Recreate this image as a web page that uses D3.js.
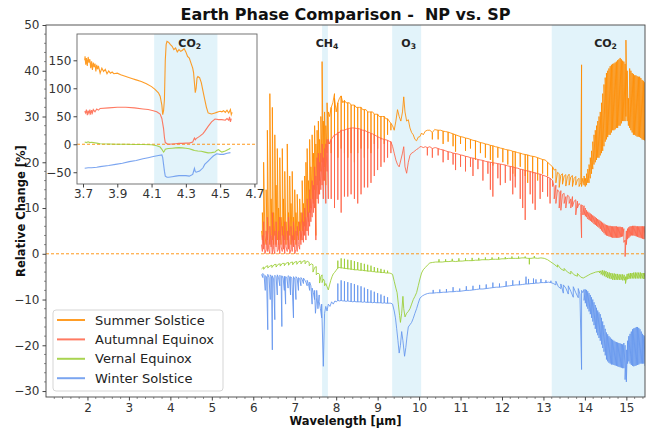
<!DOCTYPE html>
<html><head><meta charset="utf-8">
<script src="https://cdn.jsdelivr.net/npm/d3@7/dist/d3.min.js"></script>
<style>body{margin:0;background:#fff;}svg{display:block;font-family:"DejaVu Sans",sans-serif;}</style>
</head><body><svg id="c" width="646" height="430"></svg>
<script>
// ---------- DATA (each entry: [wavelength, value(s) visited in order]) ----------
const seriesNames = ["Summer Solstice", "Autumnal Equinox", "Vernal Equinox", "Winter Solstice"];
const seriesColors = ["#ff8c00", "#ff6347", "#9acd32", "#6495ed"];
const xTicks = [2,3,4,5,6,7,8,9,10,11,12,13,14,15];
const yTicks = [-30,-20,-10,0,10,20,30,40,50];
const insetXTicks = [3.7,3.9,4.1,4.3,4.5,4.7];
const insetYTicks = [-50,0,50,100,150];
const gasBands = [[7.66,7.80],[9.35,10.05],[13.2,15.7]];
const gasNames = [["CH","4"],["O","3"],["CO","2"]];
const insetBand = [4.115,4.484];

const summer = [[6.20,5],[6.22,3,9],[6.25,2,20],[6.28,4],[6.31,2,14],[6.34,3,27],[6.37,5],[6.40,2,35],[6.43,4,12],[6.46,3,32],[6.49,2,9],[6.52,4,26],[6.55,2,15],[6.58,3,23],[6.61,2,10],[6.64,3,21],[6.67,2,8],[6.70,4,23],[6.73,2,12],[6.76,3,18],[6.79,2,7],[6.82,3,24],[6.85,2,9],[6.88,4,17],[6.91,2,11],[6.94,3,18],[6.97,2,8],[7.00,3,14],[7.03,2,9],[7.06,4,13],[7.09,3,7],[7.12,5,12],[7.15,3,9],[7.18,5,16],[7.21,4,11],[7.24,6,17],[7.27,5,20],[7.30,8,23],[7.33,7,16],[7.36,9,25],[7.39,10,19],[7.42,12,26],[7.45,11,22],[7.48,14,28],[7.51,4,24],[7.54,15,27],[7.57,13,29],[7.60,16,25],[7.63,18,30],[7.66,20,42],[7.69,16,29],[7.72,19,31],[7.75,15,28],[7.78,22,33],[7.81,24,31],
[7.84,30],[7.88,32,22,32],[7.92,33],[7.96,35,24,34],[8.00,31],[8.04,33,21,33],[8.08,34],[8.12,34.5,23,34.5],[8.16,33],[8.20,33.5,22,33.5],[8.24,33],[8.28,33,21,33],[8.32,33],[8.36,32.5,22,32.5],[8.40,32.5],[8.44,32.5,20,32.5],[8.48,32],[8.52,32,22,32],[8.56,32],[8.60,32,23,32],[8.64,31.5],[8.68,31.5,21,31.5],[8.72,31.5],[8.76,31,23,31],[8.80,31],[8.84,31,22,31],[8.88,31],[8.92,30.5,24,30.5],[8.96,30.5],[9.00,30.5,23,30.5],[9.04,30],[9.08,30,25,30],[9.12,30],[9.16,30,24,30],[9.20,29.5],[9.24,29.5,26,29.5],[9.28,29],[9.32,28.5,27,28.5],
[9.36,28],[9.40,27],[9.44,29],[9.48,31.5],[9.52,30],[9.56,29],[9.60,31],[9.63,34.3],[9.66,31],[9.70,29],[9.74,29.3],[9.78,27.5],[9.82,26.5],[9.86,26],[9.90,25],[9.94,24.7],[9.98,25.5],[10.02,25.6],[10.06,26.4],[10.10,26],[10.15,26.8],[10.20,27],[10.26,27],[10.32,26.5,25,26.5],[10.38,27.2],
[10.40,27.1],[10.46,27,25,27],[10.52,27],[10.58,26.8,24,26.8],[10.64,26.7],[10.70,26.6,24.5,26.6],[10.76,26.4],[10.82,26.2,23.5,26.2],[10.88,26,22.3,26],[10.94,25.8],[11.00,25.6,24,25.6],[11.06,25.5],[11.12,25.3,22.5,25.3],[11.18,25.2],[11.24,25,23,25],[11.30,24.8],[11.36,24.7,20.5,24.7],[11.42,24.5],[11.48,24.3,22,24.3],[11.54,24.2],[11.60,24,21,24],[11.66,23.9],[11.72,23.7,20.5,23.7],[11.78,23.6,19.3,23.6],[11.84,23.4],[11.90,23.3,21,23.3],[11.96,23.1],[12.02,23,20,23],[12.08,22.8],[12.14,22.7,19.5,22.7],[12.20,22.6],[12.26,22.4,17.5,22.4],[12.32,22.3,16.9,22.3],[12.38,22.1],[12.44,22,19,22],[12.50,21.8],[12.56,21.7,17,21.7],[12.62,21.6,15.5,21.6],[12.68,21.4],[12.74,21.3,17.5,21.3],[12.80,21.2],[12.86,21,16,21],[12.92,20.8],[12.98,20.6,17.5,20.6],[13.04,20.5],[13.10,20,17,20],[13.16,19.5],[13.22,19,16.5,19],
[13.26,18.3],[13.30,18.5,15.5],[13.34,17.8],[13.38,17.5,14.5],[13.42,17.2],[13.46,17.5,15.2],[13.50,17],[13.54,17.3,14.8],[13.58,16.9],[13.62,17.4,15],[13.66,16.8],[13.70,17.1,14.7],[13.74,16.5],[13.78,16.9,15],[13.82,16.2],[13.86,16.5,14.7],[13.90,15.5],[13.92,41.3,14.7],[13.95,16.5],[13.98,15,17],[14.01,14.7,16.5],[14.04,15,17.5],[14.07,15.5,18.5],
[14.10,15.5,19.5],[14.13,16.5,21],[14.16,17.5,22.5],[14.19,18.5,24.5],[14.22,19.5,26],[14.25,20,27],[14.28,20.5,28],[14.31,21,29],[14.34,21,30],[14.37,21.5,31],[14.40,22,33],[14.43,22.5,35],[14.46,23.5,37],[14.49,24.5,38.5],[14.52,25,39.5],[14.55,25.5,40],[14.58,26,40.5],[14.61,26,41],[14.64,26.5,41.3],[14.67,27,41.5],[14.70,27,41.6],[14.73,27.2,41.8],[14.76,27.5,42],[14.79,27.5,42.3],[14.82,28,42.5],[14.85,28,42.8],[14.88,28.5,42.5],[14.91,29,42.2],[14.94,29,42],[14.97,29,41.5],[14.99,30,46.7],[15.02,29,40],[15.05,28,34],[15.08,27.5,40.5],[15.11,27,40],[15.14,26.5,39.5],[15.17,26,39.3],[15.20,26,39],[15.23,25.8,39],[15.26,25.6,38.8],[15.29,25.6,38.7],[15.32,25.5,38.7],[15.35,25.3,38.4],[15.38,25,38],[15.41,24.9,37.8],[15.44,24.8,37.5]];

const autumn = [[6.20,2],[6.22,0.5,4],[6.25,1,7],[6.28,0],[6.31,1,5],[6.34,0.5,8],[6.37,1],[6.40,0,6],[6.43,1.5,4],[6.46,0,9],[6.49,1],[6.52,0,5],[6.55,1.5,7],[6.58,0.5],[6.61,1,5],[6.64,0,8],[6.67,1.5],[6.70,0.5,6],[6.73,1,4],[6.76,0,7],[6.79,1.5],[6.82,0.5,5],[6.85,1,8],[6.88,0],[6.91,1,6],[6.94,0.5,4],[6.97,1.5,7],[7.00,0],[7.03,1,5],[7.06,0.5,6],[7.09,2],[7.12,1,7],[7.15,2,5],[7.18,3,9],[7.21,2.5,7],[7.24,4,10],[7.27,3,8],[7.30,5,12],[7.33,4,9],[7.36,6,14],[7.39,7,12],[7.42,8,16],[7.45,9,15],[7.48,10,19],[7.51,3,17],[7.54,12,21],[7.57,11,22],[7.60,13,20],[7.63,14,22],[7.66,15,24],[7.69,12,21],[7.72,16,23],[7.75,11,24],[7.78,18,25],[7.81,12,25],
[7.84,24],[7.88,25,12,25],[7.92,25.5],[7.96,26,10,26],[8.00,26],[8.04,26.5,11.8,26.5],[8.08,26.5],[8.12,27,9,27],[8.16,27],[8.20,27,12.5,27],[8.24,27.2],[8.28,27.3,12.5,27.3],[8.32,27.4],[8.36,27.5,13,27.5],[8.40,27.5],[8.44,27.5,12,27.5],[8.48,27.4],[8.52,27.4,11,27.4],[8.56,27.3],[8.60,27.2,13,27.2],[8.64,27],[8.68,27,14.5,27],[8.72,26.8],[8.76,26.6,14.5,26.6],[8.80,26.5],[8.84,26.3,15.5,26.3],[8.88,26.2],[8.92,26,17,26],[8.96,25.8],[9.00,25.6,18.3,25.6],[9.04,25.4],[9.08,25.3,19,25.3],[9.12,25.1],[9.16,25,20,25],[9.20,24.9],[9.24,24.8,21,24.8],[9.28,24.6],[9.32,24.5,22,24.5],
[9.36,23.5],[9.40,22],[9.44,20.5],[9.48,19.5],[9.52,19],[9.56,20.5],[9.60,22],[9.63,23.4],[9.66,19],[9.70,17.6],[9.74,20],[9.78,21.5],[9.82,22],[9.86,22.2],[9.90,22.5],[9.94,22.8],[9.98,23],[10.02,23.4],[10.06,23.4],[10.10,23.2],[10.15,23.4],[10.20,23.2,21.5,23.2],[10.26,23.4],[10.32,23,21,23],[10.38,23.2],
[10.40,23.2],[10.46,23,21.5,23],[10.52,22.8],[10.58,22.7,20,22.7],[10.64,22.5],[10.70,22.3,20.5,22.3],[10.76,22.2],[10.82,22,19.5,22],[10.88,21.9,18.3,21.9],[10.94,21.8],[11.00,21.6,19,21.6],[11.06,21.5],[11.12,21.3,18,21.3],[11.18,21.2],[11.24,21,19,21],[11.30,20.9,17,20.9],[11.36,20.8],[11.42,20.6,18.5,20.6],[11.48,20.5],[11.54,20.4,16,20.4],[11.60,20.2],[11.66,20.1,17.5,20.1],[11.72,20,14,20],[11.78,19.9,12.5,19.9],[11.84,19.8],[11.90,19.7,16.5,19.7],[11.96,19.6,15,19.6],[12.02,19.5],[12.08,19.4,15.5,19.4],[12.14,19.2],[12.20,19.1,16,19.1],[12.26,19,13,19],[12.32,18.8,14.5,18.8],[12.38,18.7],[12.44,18.5,12,18.5],[12.50,18.4,10,18.4],[12.56,18.2,7.4,18.2],[12.62,18.1],[12.68,18,13,18],[12.74,17.8,11,17.8],[12.80,17.7,9.6,17.7],[12.86,17.5],[12.92,17.4,12,17.4],[12.98,17.2,13.5,17.2],[13.04,17],[13.10,16.8,12.5,16.8],[13.16,16.5,11,16.5],[13.22,16,14.7,16],
[13.26,14.5,12],[13.30,15,11],[13.34,14],[13.38,13.5,10],[13.42,13.8,9.5],[13.46,13],[13.50,13.2,11],[13.54,12.5,10],[13.58,12.8],[13.62,12.5,11],[13.66,12,10],[13.70,12.5,10.3],[13.74,11.5],[13.78,11.8,8.5],[13.82,11.5,10],[13.86,11],[13.90,10.5,9],[13.92,3.5,10.7],[13.95,10.5,8.5],
[13.98,10.5,8.5],[14.01,10,8.2],[14.04,9.5,8],[14.07,9.2,7.6],[14.10,9,7.4],[14.13,8.8,7.2],[14.16,8.6,7],[14.19,8.4,6.8],[14.22,8.2,6.5],[14.25,8,6.3],[14.28,7.8,6.1],[14.31,7.6,5.9],[14.34,7.4,5.7],[14.37,7.2,5.4],[14.40,7,5.1],[14.43,6.8,4.8],[14.46,6.6,4.5],[14.49,6.4,4.2],[14.52,6.3,4],[14.55,6.2,3.9],[14.58,6.1,3.8],[14.61,6.1,3.7],[14.64,6,3.6],[14.67,6,3.5],[14.70,6,3.5],[14.73,6,3.5],[14.76,6,3.5],[14.79,5.9,3.5],[14.82,5.9,3.5],[14.85,5.9,3.6],[14.88,5.8,3.7],[14.91,5.8,3.8],[14.94,5.5,2.5],[14.97,3,-0.6],[15.00,5,2],[15.03,5.5,3.2],[15.06,5.8,3.5],[15.09,6,3.8],[15.12,6,4],[15.15,6.1,4],[15.18,6.1,4],[15.21,6.1,3.9],[15.24,6,3.8],[15.27,6,3.7],[15.30,6,3.6],[15.33,6,3.5],[15.36,6,3.4],[15.39,6,3.3],[15.42,6,3.2],[15.45,6,3.2]];

const vernal = [[6.20,-3.3],[6.25,-2.9,-3.4],[6.30,-2.8],[6.35,-2.6,-3.1],[6.40,-2.7],[6.45,-2.5,-3.0],[6.50,-2.4],[6.55,-2.3,-2.9],[6.60,-2.3],[6.65,-2.2,-2.7],[6.70,-2.1],[6.75,-2.1,-2.6],[6.80,-2.0],[6.85,-1.9,-2.5],[6.90,-1.9],[6.95,-1.8,-2.4],[7.00,-1.8],[7.05,-1.7,-2.3],[7.10,-1.7],[7.15,-1.6,-2.2],[7.20,-1.6],[7.25,-1.5,-2.2],[7.30,-1.6],[7.35,-1.9,-2.6],[7.40,-2.2],[7.44,-2.4,-4.0],[7.48,-3.0],[7.52,-2.8,-4.6],[7.56,-4.2],[7.60,-4.5,-6.4],[7.63,-5.0],[7.66,-4.6,-6.3],[7.69,-5.5],[7.72,-6.0,-7.0],[7.75,-6.5],[7.78,-7.2],[7.81,-7.9],[7.84,-6.8],[7.87,-5.8],[7.90,-5.0],[7.93,-4.4],[7.96,-4.1],[8.00,-3.6],
[8.04,-3.1,-1.5,-3.1],[8.08,-3.0],[8.12,-3.1,-1.0,-3.1],[8.16,-3.1],[8.20,-3.2,-1.1,-3.2],[8.24,-3.2],[8.28,-3.3,-1.3,-3.3],[8.32,-3.3],[8.36,-3.4,-1.4,-3.4],[8.40,-3.4],[8.44,-3.5,-1.6,-3.5],[8.48,-3.5],[8.52,-3.5,-1.8,-3.5],[8.56,-3.6],[8.60,-3.6,-2.0,-3.6],[8.64,-3.6],[8.68,-3.7,-2.2,-3.7],[8.72,-3.7],[8.76,-3.8,-2.4,-3.8],[8.80,-3.8],[8.84,-3.8,-2.6,-3.8],[8.88,-3.9],[8.92,-3.9,-2.9,-3.9],[8.96,-4.0],[9.00,-4.0,-3.1,-4.0],[9.04,-4.0],[9.08,-4.1,-3.3,-4.1],[9.12,-4.1],[9.16,-4.1,-3.5,-4.1],[9.20,-4.2],[9.24,-4.2,-3.7,-4.2],[9.28,-4.2],[9.32,-4.3],
[9.36,-4.5],[9.40,-6.0],[9.44,-7.5],[9.47,-8.5],[9.50,-11],[9.53,-13.5],[9.55,-15],[9.58,-13],[9.61,-9.3],[9.63,-12],[9.66,-13.8],[9.70,-13],[9.74,-12.6],[9.78,-12],[9.82,-11],[9.86,-10],[9.90,-9.3],[9.94,-8.5],[9.98,-7],[10.02,-5.5],[10.06,-4.2],[10.10,-3.5],[10.15,-3.0],[10.20,-2.5],[10.26,-2.0],[10.32,-1.9],[10.40,-1.8],[10.48,-1.8,-1.2,-1.8],[10.56,-1.8],[10.64,-1.7,-1.2,-1.7],[10.72,-1.7],[10.80,-1.6,-1.1,-1.6],[10.88,-1.7],[10.96,-1.6,-1.0,-1.6],[11.04,-1.6],[11.12,-1.5,-1.0,-1.5],[11.20,-1.5],[11.28,-1.5,-0.9,-1.5],[11.36,-1.4],[11.44,-1.4,-0.9,-1.4],[11.52,-1.3],[11.60,-1.3,-0.8,-1.3],[11.68,-1.3],[11.76,-1.2,-0.8,-1.2],[11.84,-1.2],[11.92,-1.2,-0.7,-1.2],[12.00,-1.1],[12.08,-1.1,-0.7,-1.1],[12.16,-1.0],[12.24,-1.0,-0.6,-1.0],[12.32,-1.0],[12.40,-1.0,-0.6,-1.0],[12.48,-0.9],[12.56,-0.9,-0.6,-0.9],[12.62,-1.0],[12.66,-1.0,-2.3,-1.0],[12.70,-1.0],[12.78,-0.9,-0.5,-0.9],[12.86,-1.0],[12.94,-0.9],[13.02,-1.0],[13.10,-1.3],[13.18,-1.8],[13.26,-2.3],[13.34,-2.9,-2.4],[13.42,-3.3],[13.50,-3.7,-3.2],[13.58,-4.0],[13.66,-4.4,-3.8],[13.74,-4.6],[13.82,-4.9,-4.3],[13.90,-5.1],[13.96,-5.3],[14.02,-5.0],[14.08,-4.7],[14.14,-4.4],[14.20,-4.2],[14.26,-4.0],[14.32,-3.9],
[14.35,-3.8,-4.2],[14.39,-3.7,-4.5],[14.43,-3.6,-4.7],[14.47,-3.7,-4.9],[14.51,-3.8,-5.1],[14.55,-4.0,-5.3],[14.59,-4.1,-5.4],[14.63,-4.2,-5.5],[14.67,-4.3,-5.7],[14.71,-4.3,-5.7],[14.75,-4.4,-5.7],[14.79,-4.4,-5.7],[14.83,-4.5,-5.7],[14.87,-4.5,-5.7],[14.91,-4.5,-5.8],[14.95,-4.6,-5.8],[14.98,-5.0,-6.5],[15.02,-4.4,-5.6],[15.06,-4.3,-5.5],[15.10,-4.2,-5.4],[15.14,-4.2,-5.4],[15.18,-4.1,-5.4],[15.22,-4.1,-5.4],[15.26,-4.1,-5.4],[15.30,-4.1,-5.4],[15.34,-4.1,-5.4],[15.38,-4.2,-5.4],[15.42,-4.2,-5.5],[15.45,-4.2,-5.5]];

const winter = [[6.20,-4.5],[6.23,-5.2,-4.3],[6.26,-4.6],[6.29,-8,-4.8],[6.32,-5],[6.35,-16.6,-4.5],[6.38,-5.2],[6.41,-10,-4.6],[6.44,-5],[6.46,-21,-4.8],[6.49,-5.5],[6.52,-14.4,-4.7],[6.55,-5],[6.58,-9,-4.6],[6.61,-5.2],[6.64,-7,-4.7],[6.67,-5],[6.69,-15.9,-4.8],[6.72,-5.3],[6.75,-8,-4.9],[6.78,-11,-5],[6.81,-5.2],[6.84,-7.5,-4.8],[6.87,-5],[6.90,-9,-5],[6.93,-5.3],[6.97,-14,-5],[7.00,-5.5],[7.03,-10,-5],[7.06,-5.4],[7.09,-8,-5.2],[7.12,-5.5],[7.15,-7,-5.2],[7.18,-5.6],[7.21,-6.5,-5.3],[7.24,-5.7],[7.27,-6.2],[7.30,-7,-5.8],[7.33,-6.5],[7.36,-8,-6.2],[7.39,-7],[7.42,-11,-7.5],[7.45,-8.5],[7.48,-10,-8],[7.50,-13],[7.53,-9.5,-8],[7.56,-12],[7.59,-9,-10.5],[7.62,-12],[7.65,-14,-11],[7.69,-24.6],[7.72,-13],[7.75,-11.5],[7.78,-12.5],[7.81,-11],[7.85,-11.5],[7.89,-10.5],[7.93,-11],[7.97,-10.3],[8.00,-10.5],
[8.04,-10.2,-6.5,-10.2],[8.08,-10.3],[8.12,-10.2,-5.8,-10.2],[8.16,-10.3],[8.20,-10.3,-6.0,-10.3],[8.24,-10.4],[8.28,-10.3,-6.2,-10.3],[8.32,-10.4],[8.36,-10.4,-6.4,-10.4],[8.40,-10.5],[8.44,-10.4,-6.6,-10.4],[8.48,-10.5],[8.52,-10.5,-6.9,-10.5],[8.56,-10.5],[8.60,-10.5,-7.1,-10.5],[8.64,-10.6],[8.68,-10.5,-7.4,-10.5],[8.72,-10.6],[8.76,-10.6,-7.7,-10.6],[8.80,-10.6],[8.84,-10.6,-8.0,-10.6],[8.88,-10.7],[8.92,-10.6,-8.3,-10.6],[8.96,-10.7],[9.00,-10.7,-8.6,-10.7],[9.04,-10.7],[9.08,-10.7,-8.9,-10.7],[9.12,-10.8],[9.16,-10.7,-9.2,-10.7],[9.20,-10.8],[9.24,-10.8,-9.5,-10.8],[9.28,-10.8],[9.32,-10.8],
[9.36,-11],[9.40,-12.5],[9.43,-14],[9.46,-16.4],[9.49,-19],[9.52,-21.7],[9.55,-20],[9.58,-17],[9.61,-19],[9.65,-22.4],[9.68,-20.5],[9.71,-18],[9.74,-16],[9.78,-15.5],[9.82,-15],[9.86,-14.1],[9.90,-13],[9.94,-12],[9.98,-10.8],[10.02,-9.7],[10.08,-9.2],[10.14,-8.9],[10.20,-8.7],[10.26,-8.6],
[10.34,-8.6,-7.9,-8.6],[10.42,-8.5],[10.50,-8.5,-7.8,-8.5],[10.58,-8.4],[10.66,-8.4,-7.7,-8.4],[10.74,-8.3],[10.82,-8.3,-7.3,-8.3],[10.90,-8.2],[10.98,-8.2,-7.6,-8.2],[11.06,-8.1],[11.14,-8.0,-7.1,-8.0],[11.22,-8.0],[11.30,-7.9,-7.0,-7.9],[11.38,-7.8],[11.46,-7.7,-6.8,-7.7],[11.54,-7.7],[11.62,-7.6,-6.7,-7.6],[11.70,-7.5],[11.78,-7.4,-6.3,-7.4],[11.86,-7.3],[11.94,-7.3,-6.5,-7.3],[12.02,-7.2],[12.10,-7.1,-6.0,-7.1],[12.18,-7.0],[12.26,-6.9,-5.8,-6.9],[12.34,-6.8],[12.42,-6.8,-5.9,-6.8],[12.50,-6.7],[12.58,-6.6,-5.0,-6.6],[12.64,-6.6,-5.5,-6.6],[12.70,-6.5],[12.76,-6.5,-5.4,-6.5],[12.82,-6.4,-5.6,-6.4],[12.88,-6.4],[12.94,-6.3,-5.5,-6.3],[13.00,-6.3],[13.06,-6.3,-5.8,-6.3],[13.12,-6.2],[13.18,-6.3,-5.9,-6.3],[13.24,-6.5],[13.30,-6.8,-6.0],[13.36,-7.2],[13.42,-7.6,-6.6],[13.48,-8.6,-6.8],[13.54,-7.5],[13.60,-8.8,-7.0],[13.66,-8.2],[13.72,-9.5,-7.2],[13.78,-8.5],[13.84,-9.6,-7.6],[13.88,-8.8],[13.92,-25.3,-8],[13.95,-8.5],
[13.98,-7.8,-10.2],[14.01,-7.8,-10.8],[14.04,-7.9,-11.5],[14.07,-8.2,-12],[14.10,-8.6,-12.6],[14.13,-9.0,-13.2],[14.16,-9.5,-14],[14.19,-10,-14.8],[14.22,-10.6,-15.6],[14.25,-11.2,-16.4],[14.28,-11.8,-17.2],[14.31,-12.4,-17.8],[14.34,-12.8,-18.4],[14.37,-13.2,-19],[14.40,-14,-19.8],[14.43,-14.8,-20.6],[14.46,-15.6,-21.4],[14.49,-16.4,-22.2],[14.52,-17.2,-23.1],[14.55,-17.6,-23.5],[14.58,-18,-23.8],[14.61,-18.3,-24],[14.64,-18.6,-24.2],[14.67,-18.8,-24.2],[14.70,-19,-24.3],[14.73,-19.2,-24.4],[14.76,-19.3,-24.5],[14.79,-19.4,-24.6],[14.82,-19.5,-24.7],[14.85,-19.6,-24.8],[14.88,-19.7,-24.9],[14.91,-19.8,-25],[14.94,-19.5,-25],[14.97,-20,-27.5],[15.00,-21,-28],[15.03,-19,-24],[15.06,-18,-23.5],[15.09,-17.5,-24],[15.12,-17,-24.3],[15.15,-16.5,-24.5],[15.18,-16.3,-24.6],[15.21,-16.2,-24.5],[15.24,-16,-24.4],[15.27,-16,-24.3],[15.30,-16.2,-24.2],[15.33,-16.5,-24],[15.36,-17,-24],[15.39,-17.5,-24],[15.42,-17.8,-24],[15.45,-18,-24.5]];

// inset (CO2 4.3 µm band)
const summerInset = [[3.71,150],[3.712,157],[3.716,142],[3.72,154],[3.725,140],[3.73,156],[3.735,146],[3.74,152],[3.745,136],[3.75,148],[3.755,133],[3.76,146],[3.765,138],[3.77,144],[3.775,130],[3.78,142],[3.785,134],[3.79,140],[3.80,127],[3.81,136],[3.82,130],[3.83,134],[3.84,126],[3.85,131],[3.86,127],[3.87,129],[3.88,126],[3.90,127],[3.92,124],[3.95,121],[3.98,118],[4.01,115],[4.04,112],[4.07,108],[4.10,103],[4.12,98],[4.14,92],[4.15,86],[4.16,70],[4.165,53],[4.17,60],[4.175,80],[4.18,150],[4.185,178],[4.19,184],[4.20,182],[4.21,178],[4.22,175],[4.23,169],[4.24,172],[4.25,165],[4.26,169],[4.27,166],[4.28,168],[4.29,171],[4.30,165],[4.31,157],[4.32,154],[4.33,145],[4.34,136],[4.345,128],[4.35,110],[4.355,92],[4.36,100],[4.365,118],[4.37,121],[4.38,119],[4.39,110],[4.40,95],[4.41,80],[4.42,66],[4.43,56],[4.44,55],[4.45,54],[4.46,55],[4.47,56],[4.48,57],[4.49,58],[4.50,59],[4.51,58],[4.52,60],[4.53,57],[4.54,61],[4.55,56],[4.56,62],[4.565,53],[4.57,57]];
const autumnInset = [[3.71,59],[3.715,56],[3.72,62],[3.725,52],[3.73,60],[3.735,55],[3.74,62],[3.745,53],[3.75,61],[3.755,56],[3.76,62],[3.77,58],[3.78,63],[3.79,61],[3.80,64],[3.85,65],[3.90,66],[3.95,66],[4.00,65],[4.05,63],[4.08,62],[4.11,60],[4.13,58],[4.15,54],[4.16,46],[4.17,28],[4.175,12],[4.18,3],[4.19,1],[4.20,0],[4.22,0.5],[4.24,1],[4.26,1.5],[4.28,1.5],[4.30,2],[4.32,2],[4.34,4],[4.35,11],[4.355,8],[4.36,10],[4.38,14],[4.40,19],[4.41,23],[4.43,32],[4.45,40],[4.47,45],[4.49,44],[4.51,44],[4.53,43],[4.54,46],[4.55,43],[4.555,49],[4.56,40],[4.565,46]];
const vernalInset = [[3.71,4],[3.72,3],[3.73,4.5],[3.74,3],[3.75,3.5],[3.78,2],[3.80,1],[3.85,0.5],[3.90,0],[3.95,0],[4.00,-0.5],[4.05,-0.5],[4.10,-1],[4.13,-2.5],[4.15,-5],[4.16,-9],[4.17,-14],[4.175,-12],[4.18,-9],[4.19,-8],[4.20,-7.5],[4.22,-7],[4.24,-6.5],[4.26,-6],[4.28,-6.5],[4.30,-7],[4.32,-8],[4.34,-10],[4.35,-11],[4.37,-12],[4.39,-12.5],[4.41,-14],[4.43,-15.4],[4.45,-15],[4.47,-14],[4.48,-11],[4.49,-9.5],[4.50,-12],[4.51,-14],[4.53,-12],[4.55,-9],[4.56,-7]];
const winterInset = [[3.71,-43],[3.73,-42],[3.75,-42],[3.78,-41],[3.80,-40],[3.85,-38],[3.89,-36],[3.93,-34],[3.97,-31],[4.01,-29],[4.05,-26],[4.08,-24],[4.11,-22],[4.14,-20],[4.16,-19],[4.165,-24],[4.17,-36],[4.175,-48],[4.18,-57],[4.19,-59],[4.20,-59],[4.22,-58],[4.24,-57],[4.26,-56],[4.28,-56],[4.30,-56],[4.32,-57],[4.34,-54],[4.35,-43],[4.355,-49],[4.36,-50],[4.38,-48],[4.40,-42],[4.41,-36],[4.43,-30],[4.45,-24],[4.46,-21],[4.48,-17],[4.50,-18],[4.52,-18],[4.54,-16],[4.56,-15]];

const mainSeries = [summer, autumn, vernal, winter];
const insetSeries = [summerInset, autumnInset, vernalInset, winterInset];

// ---------- DRAWING ----------
const svg = d3.select("#c");
const P = {l:46, r:645, t:25, b:397};
const x = d3.scaleLinear().domain([1, 15.45]).range([P.l, P.r]);
const y = d3.scaleLinear().domain([-31.3, 50]).range([P.b, P.t]);
const flat = arr => arr.flatMap(e => e.slice(1).map(v => [e[0], v]));
const axisColor = "#444", textColor = "#333", bandColor = "#87ceeb";

const defs = svg.append("defs");
defs.append("clipPath").attr("id","mclip")
  .append("rect").attr("x",P.l).attr("y",P.t).attr("width",P.r-P.l).attr("height",P.b-P.t);
const iclip = defs.append("clipPath").attr("id","iclip");

const main = svg.append("g");
const plot = main.append("g").attr("clip-path","url(#mclip)");
gasBands.forEach(b => plot.append("rect").attr("x",x(b[0])).attr("y",P.t)
  .attr("width",x(b[1])-x(b[0])).attr("height",P.b-P.t).attr("fill",bandColor).attr("opacity",0.24));
plot.append("line").attr("x1",P.l).attr("x2",P.r).attr("y1",y(0)).attr("y2",y(0))
  .attr("stroke","#ff8c00").attr("stroke-width",0.9).attr("stroke-dasharray","3,2");
const line = d3.line().x(d => x(d[0])).y(d => y(d[1]));
mainSeries.forEach((s,i) => plot.append("path").attr("d", line(flat(s))).attr("fill","none")
  .attr("stroke", seriesColors[i]).attr("stroke-width",1).attr("stroke-opacity",0.85).attr("stroke-linejoin","round"));

function gasLabel(g, cx, cy, nm, fs) {
  const t = g.append("text").attr("x",cx).attr("y",cy).attr("text-anchor","middle")
    .attr("font-weight","bold").attr("font-size",fs).attr("fill","#222");
  t.append("tspan").text(nm[0]);
  t.append("tspan").attr("font-size",fs*0.7).attr("dy",2).text(nm[1]);
}
gasBands.forEach((b,i) => gasLabel(main, x((b[0]+b[1])/2)+2, 47, gasNames[i], 11));

main.append("rect").attr("x",P.l).attr("y",P.t).attr("width",P.r-P.l).attr("height",P.b-P.t)
  .attr("fill","none").attr("stroke",axisColor).attr("stroke-width",0.9);
const xAx = main.append("g").attr("transform",`translate(0,${P.b})`)
  .call(d3.axisBottom(x).tickValues(xTicks).tickSize(3.5).tickPadding(3).tickFormat(d3.format("d")));
const yAx = main.append("g").attr("transform",`translate(${P.l},0)`)
  .call(d3.axisLeft(y).tickValues(yTicks).tickSize(3.5).tickPadding(3).tickFormat(d3.format("d")));
[xAx,yAx].forEach(a => { a.select(".domain").remove();
  a.selectAll("line").attr("stroke",axisColor);
  a.selectAll("text").attr("fill",textColor).attr("font-size",12).attr("font-family","DejaVu Sans"); });
const xMinor = d3.range(12, 155, 2).map(v => v/10).filter(v => Math.abs(v-Math.round(v))>1e-6);
const yMinor = d3.range(-30, 51, 2).filter(v => v % 10 !== 0);
main.append("g").selectAll("line").data(xMinor).join("line")
  .attr("x1",d=>x(d)).attr("x2",d=>x(d)).attr("y1",P.b).attr("y2",P.b+2).attr("stroke",axisColor).attr("stroke-width",0.6);
main.append("g").selectAll("line").data(yMinor).join("line")
  .attr("y1",d=>y(d)).attr("y2",d=>y(d)).attr("x1",P.l).attr("x2",P.l-2).attr("stroke",axisColor).attr("stroke-width",0.6);

main.append("text").attr("x",(P.l+P.r)/2).attr("y",425).attr("text-anchor","middle")
  .attr("font-weight","bold").attr("font-size",11.5).attr("fill","#111").text("Wavelength [µm]");
main.append("text").attr("transform",`translate(21,${(P.t+P.b)/2}) rotate(-90)`).attr("text-anchor","middle")
  .attr("dy","0.35em").attr("font-weight","bold").attr("font-size",11.5).attr("fill","#111").text("Relative Change [%]");
svg.append("text").attr("x",(P.l+P.r)/2).attr("y",20).attr("text-anchor","middle")
  .attr("font-weight","bold").attr("font-size",16).attr("fill","#111").style("white-space","pre")
  .text("Earth Phase Comparison -  NP vs. SP");

// ---------- INSET ----------
const I = {l:77, r:257, t:34, b:184};
const xi = d3.scaleLinear().domain([3.665, 4.715]).range([I.l, I.r]);
const yi = d3.scaleLinear().domain([-71, 197]).range([I.b, I.t]);
iclip.append("rect").attr("x",I.l).attr("y",I.t).attr("width",I.r-I.l).attr("height",I.b-I.t);
const ins = svg.append("g");
ins.append("rect").attr("x",I.l).attr("y",I.t).attr("width",I.r-I.l).attr("height",I.b-I.t).attr("fill","#fff");
const ip = ins.append("g").attr("clip-path","url(#iclip)");
ip.append("rect").attr("x",xi(insetBand[0])).attr("y",I.t).attr("width",xi(insetBand[1])-xi(insetBand[0]))
  .attr("height",I.b-I.t).attr("fill",bandColor).attr("opacity",0.24);
ip.append("line").attr("x1",I.l).attr("x2",I.r).attr("y1",yi(0)).attr("y2",yi(0))
  .attr("stroke","#ff8c00").attr("stroke-width",0.9).attr("stroke-dasharray","3,2");
const iline = d3.line().x(d => xi(d[0])).y(d => yi(d[1]));
insetSeries.forEach((s,i) => ip.append("path").attr("d", iline(flat(s))).attr("fill","none")
  .attr("stroke", seriesColors[i]).attr("stroke-width",1.1).attr("stroke-opacity",0.85));
gasLabel(ins, xi((insetBand[0]+insetBand[1])/2)+4, 47, gasNames[2], 11);
ins.append("rect").attr("x",I.l).attr("y",I.t).attr("width",I.r-I.l).attr("height",I.b-I.t)
  .attr("fill","none").attr("stroke","#666").attr("stroke-width",0.9);
const xiAx = ins.append("g").attr("transform",`translate(0,${I.b})`)
  .call(d3.axisBottom(xi).tickValues(insetXTicks).tickSize(3.5).tickPadding(2).tickFormat(d3.format(".1f")));
const yiAx = ins.append("g").attr("transform",`translate(${I.l},0)`)
  .call(d3.axisLeft(yi).tickValues(insetYTicks).tickSize(3.5).tickPadding(2).tickFormat(d3.format("d")));
[xiAx,yiAx].forEach(a => { a.select(".domain").remove();
  a.selectAll("line").attr("stroke",axisColor);
  a.selectAll("text").attr("fill",textColor).attr("font-size",12).attr("font-family","DejaVu Sans"); });

// ---------- LEGEND ----------
const L = {x:53, y:310, w:170, h:81};
const leg = svg.append("g");
leg.append("rect").attr("x",L.x).attr("y",L.y).attr("width",L.w).attr("height",L.h).attr("rx",3)
  .attr("fill","#fff").attr("fill-opacity",0.85).attr("stroke","#d0d0d0").attr("stroke-width",0.9);
seriesNames.forEach((n,i) => {
  const cy = L.y + 10 + i*19.4;
  leg.append("line").attr("x1",L.x+4).attr("x2",L.x+32).attr("y1",cy).attr("y2",cy)
    .attr("stroke",seriesColors[i]).attr("stroke-width",2).attr("stroke-opacity",0.85);
  leg.append("text").attr("x",L.x+42).attr("y",cy).attr("dy","0.35em").attr("font-size",13)
    .attr("fill","#222").text(n);
});
</script></body></html>
